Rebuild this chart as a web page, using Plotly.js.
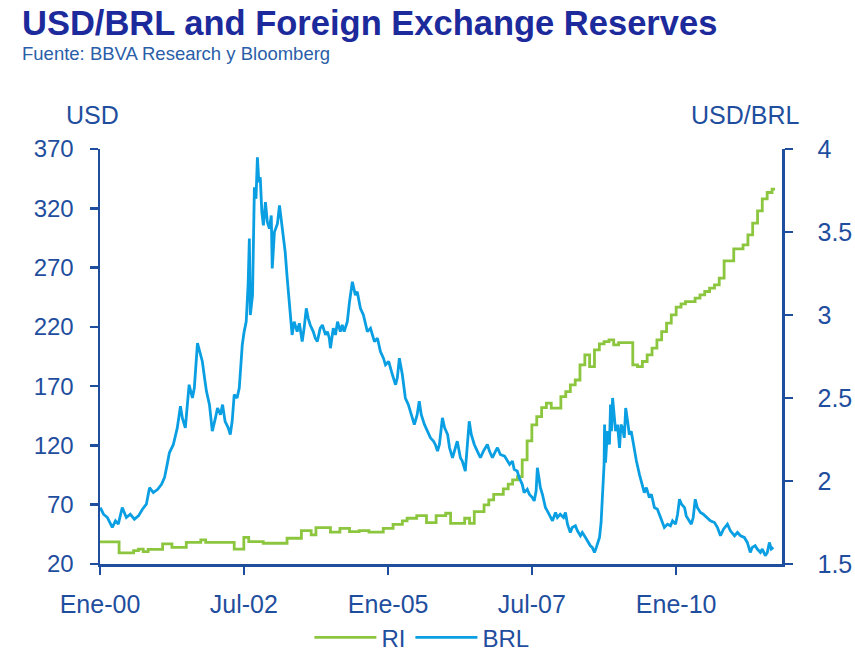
<!DOCTYPE html>
<html>
<head>
<meta charset="utf-8">
<script src="https://cdn.plot.ly/plotly-3.0.1.min.js"></script>
<style>
html,body{margin:0;padding:0;background:#fff;}
#chart{width:855px;height:654px;}
</style>
</head>
<body>
<div id="chart"></div>
<script>
// Foreign exchange reserves (USD bn), step series
const riDates = ["2000-01-01","2000-05-01","2000-08-01","2000-09-01","2000-10-01","2000-11-01","2001-02-01","2001-04-01","2001-07-01","2001-10-01","2001-11-01","2002-05-01","2002-07-01","2002-08-01","2002-11-01","2003-04-01","2003-07-01","2003-09-01","2003-10-01","2004-01-01","2004-03-01","2004-05-01","2004-07-01","2004-09-01","2004-12-01","2005-02-01","2005-04-01","2005-05-01","2005-07-01","2005-09-01","2005-11-01","2006-01-01","2006-02-01","2006-05-01","2006-06-01","2006-07-01","2006-09-01","2006-10-01","2006-11-01","2007-01-01","2007-02-01","2007-03-01","2007-04-01","2007-05-01","2007-06-01","2007-07-01","2007-08-01","2007-09-01","2007-10-01","2007-11-01","2008-01-01","2008-02-01","2008-03-01","2008-04-01","2008-05-01","2008-06-01","2008-07-01","2008-08-01","2008-09-01","2008-10-01","2008-11-01","2008-12-01","2009-01-01","2009-04-01","2009-05-01","2009-06-01","2009-07-01","2009-08-01","2009-09-01","2009-10-01","2009-11-01","2009-12-01","2010-01-01","2010-02-01","2010-03-01","2010-05-01","2010-06-01","2010-07-01","2010-08-01","2010-09-01","2010-10-01","2010-11-01","2011-01-01","2011-03-01","2011-04-01","2011-05-01","2011-06-01","2011-07-01","2011-08-01","2011-09-01","2011-09-20"];
const riValues = [38.6,29.3,31.2,32.6,30.4,32.4,36.9,34.1,38.3,40.3,38.3,32.6,42.5,38.8,37.5,41.7,48.1,44.5,50.6,46.8,50.1,47.3,48.1,46.8,50.1,53.5,56.3,58.6,60.8,54.9,60.8,62.8,54.3,58.6,54.3,64.1,69.8,74,78.8,83.3,87.3,90.9,93.7,107.8,123.8,137.3,144.3,151.9,155.6,151.4,161.2,165.4,171,175.2,187.9,196.4,186.5,200.6,205.7,207.6,209,204.8,206.7,187.9,186.5,190.8,196.4,202,209,216,223.1,230.1,236.6,239.4,241.3,244.2,247,249.8,252.7,255.4,261.1,275.7,285.8,289.2,297.6,307.5,317.9,328,333.3,336.2,336.2];

// USD/BRL exchange rate
const brlDates = ["2000-01-03","2000-01-23","2000-02-17","2000-03-19","2000-04-08","2000-04-26","2000-05-21","2000-06-16","2000-07-11","2000-08-06","2000-09-01","2000-09-26","2000-10-21","2000-11-10","2000-12-04","2001-01-01","2001-01-25","2001-02-13","2001-03-02","2001-03-16","2001-04-10","2001-05-05","2001-05-25","2001-06-06","2001-06-25","2001-07-07","2001-07-19","2001-08-09","2001-08-21","2001-09-10","2001-09-28","2001-10-11","2001-10-25","2001-11-06","2001-11-25","2001-12-13","2002-01-02","2002-01-15","2002-02-03","2002-02-16","2002-03-04","2002-03-24","2002-04-06","2002-04-18","2002-05-01","2002-05-19","2002-06-02","2002-06-12","2002-06-21","2002-07-03","2002-07-16","2002-07-28","2002-08-05","2002-08-11","2002-08-25","2002-09-06","2002-09-16","2002-09-25","2002-10-04","2002-10-13","2002-10-23","2002-11-02","2002-11-15","2002-11-27","2002-12-10","2002-12-22","2002-12-28","2003-01-11","2003-01-30","2003-02-12","2003-03-01","2003-03-20","2003-04-02","2003-04-15","2003-04-21","2003-05-03","2003-05-16","2003-06-04","2003-06-18","2003-07-06","2003-07-18","2003-08-01","2003-08-13","2003-08-26","2003-09-14","2003-09-27","2003-10-10","2003-10-28","2003-11-11","2003-12-01","2003-12-13","2003-12-25","2004-01-01","2004-01-19","2004-02-02","2004-02-15","2004-03-04","2004-03-16","2004-03-28","2004-04-17","2004-05-01","2004-05-19","2004-06-07","2004-06-19","2004-07-09","2004-07-28","2004-08-22","2004-09-11","2004-10-06","2004-10-25","2004-11-13","2004-12-02","2004-12-15","2005-01-04","2005-01-28","2005-02-17","2005-02-28","2005-03-13","2005-04-01","2005-04-20","2005-05-09","2005-05-21","2005-06-04","2005-06-16","2005-07-04","2005-07-17","2005-07-30","2005-08-19","2005-09-07","2005-09-26","2005-10-15","2005-10-27","2005-11-10","2005-11-22","2005-12-11","2005-12-25","2006-01-13","2006-01-25","2006-02-13","2006-02-26","2006-03-15","2006-04-04","2006-04-16","2006-05-05","2006-05-18","2006-05-30","2006-06-12","2006-07-01","2006-07-20","2006-08-09","2006-08-28","2006-09-22","2006-10-05","2006-10-24","2006-11-13","2006-11-25","2006-12-13","2007-01-09","2007-01-28","2007-02-10","2007-02-28","2007-03-11","2007-03-30","2007-04-12","2007-05-01","2007-05-13","2007-06-02","2007-06-15","2007-07-04","2007-07-16","2007-07-28","2007-08-05","2007-08-15","2007-08-24","2007-09-06","2007-09-25","2007-10-07","2007-10-26","2007-11-09","2007-11-28","2007-12-10","2007-12-28","2008-01-18","2008-01-30","2008-02-12","2008-03-01","2008-03-13","2008-04-02","2008-04-15","2008-05-04","2008-05-16","2008-06-05","2008-06-17","2008-07-06","2008-07-18","2008-08-01","2008-08-13","2008-09-02","2008-09-12","2008-09-18","2008-09-24","2008-10-01","2008-10-04","2008-10-10","2008-10-22","2008-11-04","2008-11-11","2008-11-17","2008-11-24","2008-12-04","2008-12-13","2008-12-25","2009-01-07","2009-01-16","2009-01-26","2009-02-06","2009-02-15","2009-02-27","2009-03-10","2009-03-22","2009-04-11","2009-04-24","2009-05-13","2009-05-25","2009-06-13","2009-06-26","2009-07-15","2009-07-28","2009-08-16","2009-09-04","2009-09-24","2009-10-06","2009-10-18","2009-11-07","2009-11-26","2009-12-09","2009-12-28","2010-01-10","2010-01-22","2010-02-04","2010-02-23","2010-03-06","2010-03-25","2010-04-07","2010-04-19","2010-05-02","2010-05-15","2010-06-04","2010-06-22","2010-07-17","2010-08-06","2010-09-01","2010-09-20","2010-10-09","2010-10-28","2010-11-22","2010-12-11","2011-01-06","2011-01-25","2011-02-13","2011-03-09","2011-03-28","2011-04-16","2011-04-28","2011-05-17","2011-05-30","2011-06-19","2011-07-01","2011-07-20","2011-08-02","2011-08-15","2011-08-27","2011-09-09"];
const brlValues = [1.84,1.80,1.78,1.72,1.76,1.74,1.84,1.78,1.80,1.77,1.79,1.83,1.86,1.96,1.93,1.95,1.98,2.02,2.10,2.17,2.22,2.32,2.45,2.38,2.32,2.48,2.58,2.50,2.56,2.83,2.76,2.72,2.62,2.54,2.46,2.30,2.38,2.44,2.40,2.46,2.36,2.32,2.28,2.36,2.52,2.50,2.56,2.74,2.82,2.90,2.96,3.18,3.46,3.00,3.12,3.77,3.70,3.95,3.80,3.83,3.62,3.54,3.68,3.56,3.52,3.60,3.28,3.50,3.55,3.66,3.52,3.38,3.22,3.08,3.00,2.88,2.96,2.90,2.95,2.84,2.92,3.04,2.98,2.94,2.90,2.86,2.84,2.92,2.94,2.88,2.90,2.86,2.80,2.92,2.88,2.96,2.90,2.94,2.90,2.96,3.08,3.20,3.12,3.14,3.04,3.00,2.90,2.92,2.84,2.86,2.78,2.74,2.70,2.72,2.64,2.58,2.62,2.74,2.64,2.50,2.46,2.42,2.38,2.34,2.40,2.48,2.40,2.34,2.30,2.26,2.24,2.22,2.18,2.22,2.38,2.32,2.28,2.20,2.14,2.18,2.24,2.14,2.12,2.06,2.20,2.36,2.28,2.22,2.18,2.14,2.18,2.22,2.18,2.14,2.18,2.20,2.16,2.15,2.12,2.10,2.12,2.07,2.06,2.02,1.98,1.93,1.95,1.92,1.90,1.88,1.94,2.08,2.02,1.96,1.92,1.84,1.82,1.78,1.76,1.81,1.78,1.80,1.78,1.81,1.74,1.69,1.72,1.73,1.70,1.67,1.69,1.66,1.64,1.61,1.60,1.57,1.60,1.66,1.75,1.86,1.95,2.10,2.34,2.11,2.30,2.22,2.46,2.30,2.50,2.38,2.30,2.34,2.20,2.34,2.32,2.26,2.44,2.36,2.28,2.30,2.18,2.12,2.04,2.00,1.93,1.96,1.90,1.92,1.84,1.83,1.78,1.76,1.72,1.74,1.73,1.76,1.74,1.80,1.89,1.86,1.84,1.79,1.76,1.74,1.78,1.89,1.84,1.81,1.80,1.78,1.76,1.75,1.72,1.67,1.71,1.74,1.70,1.67,1.69,1.67,1.66,1.63,1.57,1.60,1.61,1.59,1.57,1.59,1.55,1.57,1.63,1.59,1.60];

const xTickVals = ["2000-01-01","2002-07-01","2005-01-01","2007-07-01","2010-01-01"];
const xTickText = ["Ene-00","Jul-02","Ene-05","Jul-07","Ene-10"];
const leftTicks = [20,70,120,170,220,270,320,370];
const rightTicks = [1.5,2,2.5,3,3.5,4];
const rightTickText = ["1.5","2","2.5","3","3.5","4"];

const axisColor = "#1f4e9e";
const fontFam = "Liberation Sans, Arial, sans-serif";

const traces = [
  {x: riDates, y: riValues, name: "RI", type: "scatter", mode: "lines",
   line: {color: "#8cc63f", width: 2.8, shape: "hv"}, yaxis: "y"},
  {x: brlDates, y: brlValues, name: "BRL", type: "scatter", mode: "lines",
   line: {color: "#0a9fe2", width: 2.8}, yaxis: "y2"}
];

const layout = {
  width: 855, height: 654,
  margin: {l: 100, r: 73, t: 149, b: 90, autoexpand: false},
  paper_bgcolor: "#fff", plot_bgcolor: "#fff",
  font: {family: fontFam, color: axisColor, size: 25},
  showlegend: true,
  legend: {orientation: "h", x: 0.472, xanchor: "center", y: -0.178, yanchor: "middle",
           itemwidth: 62, font: {size: 24, color: axisColor}, bgcolor: "rgba(0,0,0,0)"},
  xaxis: {type: "date", range: ["2000-01-01","2011-11-03"], tickvals: xTickVals, ticktext: xTickText,
          showgrid: false, zeroline: false, showline: true, linecolor: axisColor, linewidth: 2.5,
          ticks: "outside", ticklen: 8, tickwidth: 2.5, tickcolor: axisColor,
          tickfont: {size: 25, color: axisColor}, ticklabelstandoff: 8},
  yaxis: {range: [20, 370], tickvals: leftTicks, showgrid: false, zeroline: false,
          showline: true, linecolor: axisColor, linewidth: 2.5,
          ticks: "outside", ticklen: 8, tickwidth: 2.5, tickcolor: axisColor,
          tickfont: {size: 24, color: axisColor}, ticklabelstandoff: 11},
  yaxis2: {range: [1.5, 4], tickvals: rightTicks, ticktext: rightTickText, overlaying: "y", side: "right",
           showgrid: false, zeroline: false, showline: true, linecolor: axisColor, linewidth: 2.5,
           ticks: "outside", ticklen: 8, tickwidth: 2.5, tickcolor: axisColor,
           tickfont: {size: 25, color: axisColor}, ticklabelstandoff: 20},
  annotations: [
    {text: "<b>USD/BRL and Foreign Exchange Reserves</b>", xref: "paper", yref: "paper",
     x: -0.1173, y: 1.303, xanchor: "left", yanchor: "middle", showarrow: false,
     font: {size: 34.5, color: "#1c2a9c", family: fontFam}},
    {text: "Fuente: BBVA Research y Bloomberg", xref: "paper", yref: "paper",
     x: -0.1173, y: 1.229, xanchor: "left", yanchor: "middle", showarrow: false,
     font: {size: 18.5, color: "#2a5ea8", family: fontFam}},
    {text: "USD", xref: "paper", yref: "paper", x: -0.0114, y: 1.082, xanchor: "center", yanchor: "middle",
     showarrow: false, font: {size: 25, color: axisColor, family: fontFam}},
    {text: "USD/BRL", xref: "paper", yref: "paper", x: 0.946, y: 1.082, xanchor: "center", yanchor: "middle",
     showarrow: false, font: {size: 25, color: axisColor, family: fontFam}}
  ]
};

Plotly.newPlot("chart", traces, layout, {displayModeBar: false, staticPlot: true});
</script>
</body>
</html>
